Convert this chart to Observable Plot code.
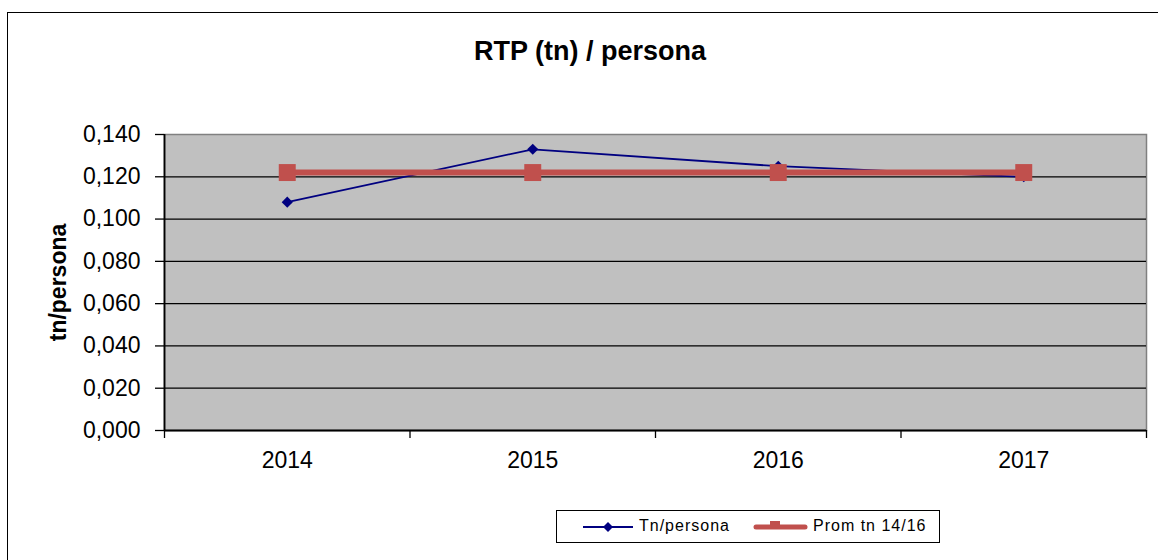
<!DOCTYPE html>
<html>
<head>
<meta charset="utf-8">
<script src="https://cdn.jsdelivr.net/npm/d3@7"></script>
<script src="https://cdn.jsdelivr.net/npm/@observablehq/plot@0.6"></script>
<style>
  html, body { margin: 0; padding: 0; background: #fff; }
  #wrap { position: relative; width: 1158px; height: 560px; overflow: hidden; font-family: "Liberation Sans", Arial, sans-serif; }
  #frame { position: absolute; left: 7px; top: 12px; width: 1300px; height: 700px; border: 1.5px solid #000; box-sizing: border-box; }
  #title { position: absolute; left: 590px; top: 36px; transform: translateX(-50%); font-weight: bold; font-size: 27px; white-space: nowrap; color: #000; }
  #chart { position: absolute; left: 0; top: 0; }
  #legend { position: absolute; left: 556px; top: 510px; width: 384px; height: 33px; border: 1.5px solid #000; box-sizing: border-box; background: #fff; font-size: 16px; letter-spacing: 1px; }
  #legend .item { position: absolute; top: 0; height: 30px; display: flex; align-items: center; white-space: nowrap; }
  #legend svg { display: block; margin-right: 5px; }
</style>
</head>
<body>
<div id="wrap">
  <div id="frame"></div>
  <div id="chart"></div>
  <div id="title">RTP (tn) / persona</div>
  <div id="legend"></div>
</div>
<script>
// ---- data ----
const years = ["2014", "2015", "2016", "2017"];
const tnPersona = [0.108, 0.133, 0.125, 0.120];
const promTn1416 = [0.122, 0.122, 0.122, 0.122];
const yTicks = [0, 0.02, 0.04, 0.06, 0.08, 0.10, 0.12, 0.14];
const seriesNames = ["Tn/persona", "Prom tn 14/16"];

const navy = "#000080";
const red = "#C0504D";

const tnData = years.map((y, i) => ({ i, v: tnPersona[i] }));
const promData = years.map((y, i) => ({ i, v: promTn1416[i] }));
const idx = years.map((y, i) => i);
const bounds = [-0.5, ...idx.map(i => i + 0.5)];
const fmt = d => d.toFixed(3).replace(".", ",");

const chart = Plot.plot({
  width: 1158,
  height: 560,
  marginLeft: 164,
  marginRight: 12,
  marginTop: 134,
  marginBottom: 130,
  style: { fontFamily: "'Liberation Sans', Arial, sans-serif", background: "transparent", overflow: "visible" },
  x: { domain: [-0.5, years.length - 0.5] },
  y: { domain: [0, 0.14] },
  marks: [
    Plot.frame({ fill: "#C0C0C0", stroke: "#808080", strokeWidth: 1.5 }),
    Plot.gridY(yTicks.filter(t => t > 0 && t < 0.14), { stroke: "#000", strokeOpacity: 1, strokeWidth: 1.3 }),
    Plot.axisY(yTicks, {
      tickFormat: fmt, tickSize: 9, tickPadding: 15, fontSize: 23, label: null,
      stroke: "#000", strokeWidth: 1.3, style: { letterSpacing: "1px" }
    }),
    Plot.axisX(bounds, { tickFormat: () => "", tickSize: 8, stroke: "#000", strokeWidth: 1.3, label: null }),
    Plot.axisX(idx, { tickFormat: i => years[i], tickSize: 0, tickPadding: 21, fontSize: 23, label: null, style: { letterSpacing: "1px" } }),
    Plot.ruleX([-0.5], { stroke: "#000", strokeWidth: 1.8 }),
    Plot.ruleY([0], { stroke: "#000", strokeWidth: 1.8 }),
    Plot.text(["tn/persona"], {
      frameAnchor: "left", textAnchor: "middle", dx: -106, rotate: -90, fontWeight: "bold", fontSize: 23, fill: "#000"
    }),
    Plot.line(tnData, { x: "i", y: "v", stroke: navy, strokeWidth: 1.8 }),
    Plot.dot(tnData, { x: "i", y: "v", symbol: "diamond2", r: 5, fill: navy, stroke: "none" }),
    Plot.line(promData, { x: "i", y: "v", stroke: red, strokeWidth: 6 }),
    Plot.dot(promData, { x: "i", y: "v", symbol: "square2", r: 10.8, fill: red, stroke: "none" })
  ]
});
document.getElementById("chart").appendChild(chart);

// ---- legend ----
const legend = document.getElementById("legend");
function item(left, svgInner, label, w) {
  const d = document.createElement("div");
  d.className = "item";
  d.style.left = left + "px";
  d.innerHTML = `<svg width="${w}" height="30">${svgInner}</svg><span>${label}</span>`;
  legend.appendChild(d);
}
item(26, `<line x1="0" x2="50" y1="16" y2="16" stroke="${navy}" stroke-width="1.8"/><path d="M25 11 L30 16 L25 21 L20 16 Z" fill="${navy}"/>`, seriesNames[0], 51);
item(196, `<line x1="3" x2="52" y1="16" y2="16" stroke="${red}" stroke-width="5" stroke-linecap="round"/><rect x="17" y="10" width="10" height="8" fill="${red}"/>`, seriesNames[1], 55);
</script>
</body>
</html>
